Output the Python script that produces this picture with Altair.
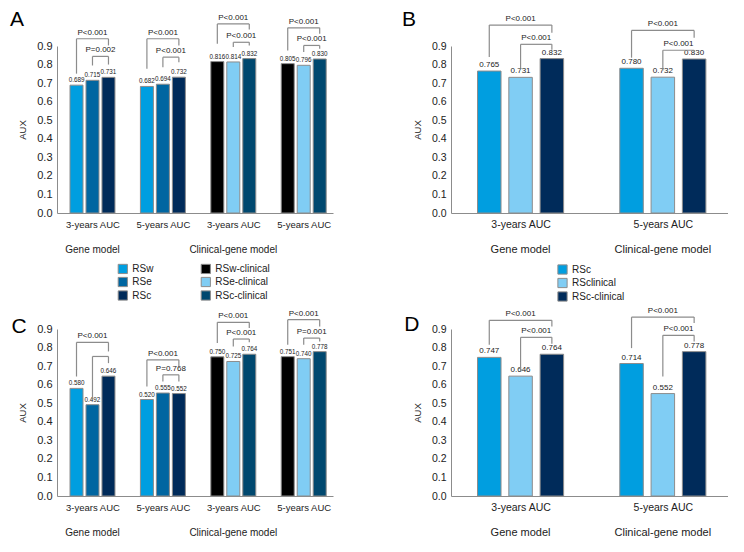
import altair as alt
import pandas as pd

FONT = "Liberation Sans, Arial, sans-serif"
GRAY = "#8c8c8c"
INK = "#222222"

# ---------------- data ----------------
cats_4 = ["3-years AUC", "5-years AUC", "3-years AUC", "5-years AUC"]
cats_2 = ["3-years AUC", "5-years AUC"]
models = ["Gene model", "Clinical-gene model"]

# Panel A
a_series = [["RSw", "RSe", "RSc"], ["RSw", "RSe", "RSc"],
            ["RSw-clinical", "RSe-clinical", "RSc-clinical"],
            ["RSw-clinical", "RSe-clinical", "RSc-clinical"]]
a_values = [[0.689, 0.715, 0.731], [0.682, 0.694, 0.732],
            [0.816, 0.814, 0.832], [0.805, 0.796, 0.830]]
a_labels = [["0.689", "0.715", "0.731"], ["0.682", "0.694", "0.732"],
            ["0.816", "0.814", "0.832"], ["0.805", "0.796", "0.830"]]
a_p_outer = ["P<0.001", "P<0.001", "P<0.001", "P<0.001"]
a_p_inner = ["P=0.002", "P<0.001", "P<0.001", "P<0.001"]
a_outer_lv = [(0.939, 0.751, 0.903), (0.939, 0.778, 0.903), (1.019, 0.912, 0.989), (0.998, 0.876, 0.966)]
a_inner_lv = [(0.844, 0.795, 0.800), (0.840, 0.786, 0.813), (0.920, 0.894, 0.903), (0.903, 0.867, 0.885)]
a_legend = ["RSw", "RSe", "RSc", "RSw-clinical", "RSe-clinical", "RSc-clinical"]
a_colors = ["#009ee0", "#0066a1", "#002b5a", "#000000", "#80cdf4", "#00486f"]

# Panel B
b_series = [["RSc", "RSclinical", "RSc-clinical"], ["RSc", "RSclinical", "RSc-clinical"]]
b_values = [[0.765, 0.731, 0.832], [0.780, 0.732, 0.830]]
b_labels = [["0.765", "0.731", "0.832"], ["0.780", "0.732", "0.830"]]
b_p_outer = ["P<0.001", "P<0.001"]
b_p_inner = ["P<0.001", "P<0.001"]
b_outer_lv = [(1.013, 0.841, 0.972), (0.984, 0.837, 0.945)]
b_inner_lv = [(0.909, 0.778, 0.880), (0.877, 0.768, 0.865)]
b_legend = ["RSc", "RSclinical", "RSc-clinical"]
b_colors = ["#009ee0", "#80cdf4", "#002b5a"]

# Panel C
c_values = [[0.580, 0.492, 0.646], [0.520, 0.555, 0.552],
            [0.750, 0.725, 0.764], [0.751, 0.740, 0.778]]
c_labels = [["0.580", "0.492", "0.646"], ["0.520", "0.555", "0.552"],
            ["0.750", "0.725", "0.764"], ["0.751", "0.740", "0.778"]]
c_p_outer = ["P<0.001", "P<0.001", "P<0.001", "P<0.001"]
c_p_inner = ["", "P=0.768", "P<0.001", "P=0.001"]
c_outer_lv = [(0.828, 0.644, 0.779), (0.734, 0.590, 0.698), (0.936, 0.824, 0.905), (0.950, 0.815, 0.914)]
c_inner_lv = [(0.752, 0.518, 0.716), (0.653, 0.617, 0.617), (0.846, 0.806, 0.828), (0.851, 0.815, 0.833)]

# Panel D
d_values = [[0.747, 0.646, 0.764], [0.714, 0.552, 0.778]]
d_labels = [["0.747", "0.646", "0.764"], ["0.714", "0.552", "0.778"]]
d_p_outer = ["P<0.001", "P<0.001"]
d_p_inner = ["P<0.001", "P<0.001"]
d_outer_lv = [(0.947, 0.815, 0.914), (0.964, 0.797, 0.932)]
d_inner_lv = [(0.855, 0.671, 0.821), (0.866, 0.644, 0.833)]

y_ticks = [round(i * 0.1, 1) for i in range(10)]


def make_panel(letter, letter_xy, cats, series, values, labels, legend_order, colors,
               legend_cfg, p_outer, p_inner, outer_lv, inner_lv, model_pos,
               width, height, xdom, off, hw, fs, anchor):
    xs = alt.Scale(domain=xdom, nice=False, zero=False)
    ys = alt.Scale(domain=[0, 0.9], nice=False, zero=True)
    label_expr = "[" + ",".join("'%s'" % c for c in cats) + "][round(datum.value)]"
    xax = alt.Axis(values=list(range(len(cats))), labelExpr=label_expr, title=None, ticks=False,
                   grid=False, labelFont=FONT, labelFontSize=fs["cat"], labelColor=INK,
                   labelPadding=6, labelFlush=False, labelOverlap=False, domainColor=GRAY)
    yax = alt.Axis(values=y_ticks, format=".1f", title="AUX", titleFont=FONT,
                   titleFontSize=fs["title"], titleFontWeight="normal", titleColor=INK,
                   titlePadding=9, ticks=False, grid=False, labelFont=FONT,
                   labelFontSize=fs["tick"], labelColor=INK, labelPadding=5, domainColor=GRAY)

    rows = []
    for g in range(len(cats)):
        for s in range(3):
            p = g + (s - 1) * off
            rows.append({"pos": p, "x1": p - hw, "x2": p + hw, "value": values[g][s],
                         "label": labels[g][s], "series": series[g][s]})
    bars_df = pd.DataFrame(rows)

    seg, ptxt = [], []
    for g in range(len(cats)):
        for (lv, a, b, txt) in [(outer_lv[g], 0, 2, p_outer[g]), (inner_lv[g], 1, 2, p_inner[g])]:
            top, lb, rb = lv
            xl = g + (a - 1) * off
            xr = g + (b - 1) * off
            seg.append({"x": xl, "x2": xr, "y": top, "y2": top})
            seg.append({"x": xl, "x2": xl, "y": top, "y2": lb})
            seg.append({"x": xr, "x2": xr, "y": top, "y2": rb})
            if txt:
                ptxt.append({"x": (xl + xr) / 2, "y": top, "t": txt})
    seg_df = pd.DataFrame(seg)
    ptxt_df = pd.DataFrame(ptxt)

    if legend_cfg is None:
        leg = None
    else:
        leg = alt.Legend(orient="none", legendX=legend_cfg["x"], legendY=legend_cfg["y"],
                         columns=legend_cfg["cols"], title=None, symbolType="square",
                         symbolSize=85, symbolStrokeColor=GRAY, symbolStrokeWidth=1,
                         symbolOpacity=1, labelFont=FONT, labelFontSize=fs["legend"],
                         labelColor=INK, labelOffset=4, rowPadding=-1.5,
                         columnPadding=legend_cfg.get("colpad", 10), padding=0)

    bars = alt.Chart(bars_df).mark_bar(stroke=GRAY, strokeWidth=1).encode(
        x=alt.X("x1:Q", scale=xs, axis=xax),
        x2="x2:Q",
        y=alt.Y("value:Q", scale=ys, axis=yax),
        y2=alt.datum(0),
        color=alt.Color("series:N", scale=alt.Scale(domain=legend_order, range=colors),
                        legend=leg),
    )

    vals = alt.Chart(bars_df).mark_text(baseline="bottom", dy=-2, font=FONT,
                                        fontSize=fs["val"], color=INK).encode(
        x=alt.X("pos:Q", scale=xs, axis=xax),
        y=alt.Y("value:Q", scale=ys, axis=yax),
        text="label:N",
    )

    brackets = alt.Chart(seg_df).mark_rule(color=GRAY, strokeWidth=1.2).encode(
        x=alt.X("x:Q", scale=xs, axis=xax), x2="x2:Q",
        y=alt.Y("y:Q", scale=ys, axis=yax), y2="y2:Q",
    )

    ptexts = alt.Chart(ptxt_df).mark_text(baseline="bottom", dy=-2, font=FONT,
                                          fontSize=fs["p"], color=INK).encode(
        x=alt.X("x:Q", scale=xs, axis=xax),
        y=alt.Y("y:Q", scale=ys, axis=yax),
        text="t:N",
    )

    mdf = pd.DataFrame({"pos": model_pos, "t": models})
    mlabels = alt.Chart(mdf).mark_text(baseline="middle", font=FONT,
                                       fontSize=fs["model"], color=INK).encode(
        x=alt.X("pos:Q", scale=xs, axis=xax),
        y=alt.value(height + 37),
        text="t:N",
    )

    ldf = pd.DataFrame({"t": [letter]})
    letter_mark = alt.Chart(ldf).mark_text(align="left", baseline="alphabetic", font=FONT,
                                           fontSize=21, color="#000000").encode(
        x=alt.value(letter_xy[0]), y=alt.value(letter_xy[1]), text="t:N")

    L, T, R, B = anchor
    adf = pd.DataFrame({"k": [0]})
    anchor_mark = alt.Chart(adf).mark_rule(opacity=0, strokeWidth=0).encode(
        x=alt.value(-L), x2=alt.value(width + R), y=alt.value(-T), y2=alt.value(height + B))

    return alt.layer(bars, vals, brackets, ptexts, mlabels, letter_mark, anchor_mark).properties(
        width=width, height=height)


fs_small = {"val": 6.3, "p": 8, "tick": 11, "cat": 9.5, "model": 10, "title": 9.5, "legend": 10}
fs_big = {"val": 8, "p": 8, "tick": 10.5, "cat": 10.5, "model": 11, "title": 9.5, "legend": 10}

A_DOM = [-0.504, 3.416]
B_DOM = [-0.489, 1.458]

pA = make_panel("A", (-47, -20), cats_4, a_series, a_values, a_labels, a_legend, a_colors,
                {"x": 60.3, "y": 217, "cols": 2, "colpad": 44},
                a_p_outer, a_p_inner, a_outer_lv, a_inner_lv, [0, 2],
                276, 167, A_DOM, 0.227, 0.0923, fs_small, (49, 37.5, 0, 100))

pB = make_panel("B", (-49, -20), cats_2, b_series, b_values, b_labels, b_legend, b_colors,
                {"x": 106, "y": 218, "cols": 1},
                b_p_outer, b_p_inner, b_outer_lv, b_inner_lv, [0, 1],
                277, 167, B_DOM, 0.22, 0.0826, fs_big, (50, 37, 0, 100))

pC = make_panel("C", (-45.6, 3.7), cats_4, a_series, c_values, c_labels, a_legend, a_colors,
                None, c_p_outer, c_p_inner, c_outer_lv, c_inner_lv, [0, 2],
                276, 167, A_DOM, 0.227, 0.0923, fs_small, (49, 25.5, 0, 45))

pD = make_panel("D", (-46.7, 2.3), cats_2, b_series, d_values, d_labels, b_legend, b_colors,
                None, d_p_outer, d_p_inner, d_outer_lv, d_inner_lv, [0, 1],
                277, 167, B_DOM, 0.22, 0.0826, fs_big, (50, 25.2, 0, 45))

row1 = alt.hconcat(pA, pB, spacing=68).resolve_scale(color="independent")
row2 = alt.hconcat(pC, pD, spacing=68).resolve_scale(color="independent")

chart = alt.vconcat(row1, row2, spacing=-10).resolve_scale(
    color="independent"
).properties(padding=0, background="white").configure_view(strokeWidth=0)

chart.save("out.html", embed_options={"renderer": "svg", "actions": False})
